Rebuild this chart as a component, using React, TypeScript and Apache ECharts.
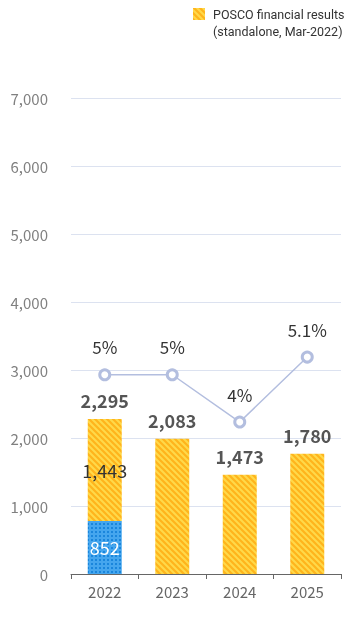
import React, { useEffect, useRef } from "react";
import * as echarts from "echarts";

const categories = ["2022", "2023", "2024", "2025"];
// bar heights as drawn
const blueValues: (number | string)[] = [780, "-", "-", "-"];
const yellowValues = [1500, 1990, 1460, 1770];
const totalValues = [2280, 1990, 1460, 1770];
// labels as printed
const totalLabels = ["2,295", "2,083", "1,473", "1,780"];
const yellowInnerLabel = "1,443";
const blueLabel = "852";
// line (margin) positions and labels
const lineValues = [2930, 2930, 2235, 3190];
const pctLabels = ["5%", "5%", "4%", "5.1%"];
const yTicks = { min: 0, max: 7000, interval: 1000 };
const legendLines = ["POSCO financial results", "(standalone, Mar-2022)"];

const FONT = "'Noto Sans CJK KR', 'Noto Sans', sans-serif";
const LEGEND_FONT = "Roboto, 'Liberation Sans', sans-serif";

function makeStripe(): HTMLCanvasElement {
  const c = document.createElement("canvas");
  const s = 6;
  c.width = s;
  c.height = s;
  const g = c.getContext("2d")!;
  g.fillStyle = "#FFD94A";
  g.fillRect(0, 0, s, s);
  g.strokeStyle = "#FFB41C";
  g.lineWidth = 2.2;
  g.beginPath();
  g.moveTo(-1, -1);
  g.lineTo(s + 1, s + 1);
  g.moveTo(-1, s - 1);
  g.lineTo(1, s + 1);
  g.moveTo(s - 1, -1);
  g.lineTo(s + 1, 1);
  g.stroke();
  return c;
}

function makeBlue(): HTMLCanvasElement {
  const c = document.createElement("canvas");
  const s = 4;
  c.width = s;
  c.height = s;
  const g = c.getContext("2d")!;
  g.fillStyle = "#1A86DC";
  g.fillRect(0, 0, s, s);
  g.fillStyle = "#45A6EE";
  g.fillRect(1, 0, 2, 4);
  g.fillRect(0, 1, 4, 2);
  return c;
}

export default function App() {
  const ref = useRef<HTMLDivElement>(null);
  useEffect(() => {
    if (!ref.current) return;
    const chart = echarts.init(ref.current, undefined, { renderer: "svg" });
    const stripe = { image: makeStripe(), repeat: "repeat" } as any;
    const blue = { image: makeBlue(), repeat: "repeat" } as any;
    chart.setOption({
      animation: false,
      grid: { left: 71, right: 14, top: 98, bottom: 46 },
      graphic: [
        { type: "rect", shape: { x: 193, y: 8, width: 12, height: 12 }, style: { fill: stripe } },
        {
          type: "text",
          x: 213,
          y: 14,
          style: {
            text: legendLines[0],
            fill: "#333",
            fontSize: 12.5,
            lineHeight: 15,
            fontFamily: LEGEND_FONT,
            verticalAlign: "middle",
          },
        },
        {
          type: "text",
          x: 213,
          y: 31,
          style: {
            text: legendLines[1],
            fill: "#333",
            fontSize: 12.5,
            lineHeight: 15,
            fontFamily: LEGEND_FONT,
            verticalAlign: "middle",
          },
        },
      ],
      xAxis: {
        type: "category",
        data: categories,
        axisLine: { lineStyle: { color: "#666" } },
        axisTick: { show: true, length: 5, lineStyle: { color: "#666" } },
        axisLabel: { color: "#666", fontSize: 15, fontFamily: FONT, margin: 10 },
      },
      yAxis: {
        type: "value",
        min: yTicks.min,
        max: yTicks.max,
        interval: yTicks.interval,
        axisLine: { show: false },
        axisTick: { show: false },
        splitLine: { lineStyle: { color: "#DCE2F0" } },
        axisLabel: {
          color: "#808080",
          fontSize: 15,
          fontFamily: FONT,
          margin: 23,
          formatter: (v: number) => v.toLocaleString("en-US"),
        },
      },
      series: [
        {
          type: "bar",
          stack: "a",
          data: blueValues,
          barWidth: 34,
          itemStyle: { color: blue },
          label: {
            show: true,
            position: "inside",
            formatter: () => blueLabel,
            color: "#fff",
            fontSize: 18,
            fontFamily: FONT,
          },
        },
        {
          type: "bar",
          stack: "a",
          barWidth: 34,
          data: yellowValues.map((v, i) =>
            i === 0
              ? {
                  value: v,
                  label: {
                    show: true,
                    position: "inside",
                    formatter: () => yellowInnerLabel,
                    color: "#333",
                    fontSize: 18,
                    fontFamily: FONT,
                  },
                }
              : v
          ),
          itemStyle: { color: stripe },
        },
        {
          type: "scatter",
          data: totalValues,
          symbolSize: 0,
          label: {
            show: true,
            position: "top",
            distance: 10,
            formatter: (p: any) => totalLabels[p.dataIndex],
            color: "#2a2a2a",
            fontSize: 18,
            fontWeight: "bold",
            fontFamily: FONT,
          },
        },
        {
          type: "line",
          data: lineValues,
          symbol: "circle",
          symbolSize: 10,
          lineStyle: { color: "#B3BEDF", width: 1.5 },
          itemStyle: { color: "#fff", borderColor: "#B3BEDF", borderWidth: 3 },
          label: {
            show: true,
            position: "top",
            distance: 13,
            formatter: (p: any) => pctLabels[p.dataIndex],
            color: "#333",
            fontSize: 17,
            fontFamily: FONT,
          },
        },
      ],
    });
    return () => chart.dispose();
  }, []);
  return <div ref={ref} style={{ width: 355, height: 620, position: "fixed", left: 0, top: 0 }} />;
}
